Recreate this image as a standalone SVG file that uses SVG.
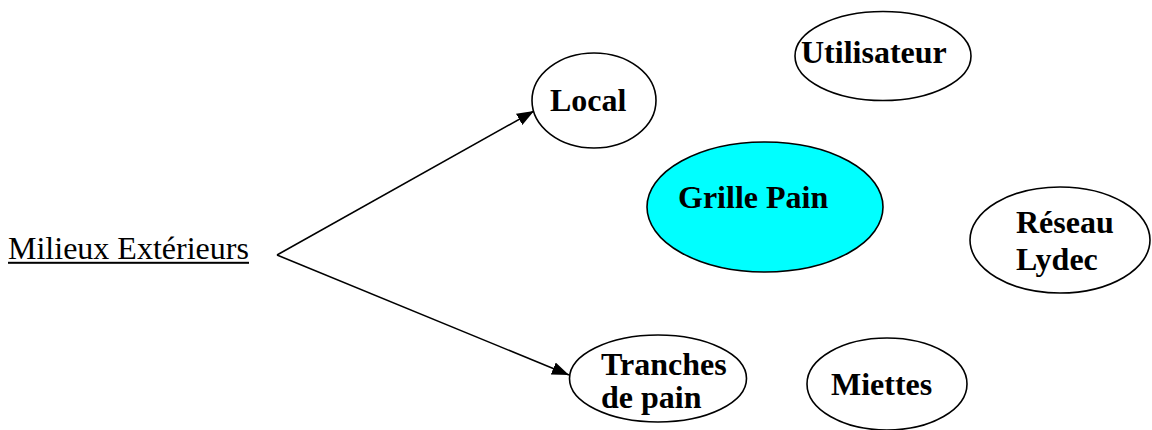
<svg xmlns="http://www.w3.org/2000/svg" width="1152" height="430" viewBox="0 0 1152 430">
<style>
  .node ellipse { fill: #ffffff; stroke: #000000; stroke-width: 1.6; }
  .node ellipse.main { fill: #00ffff; }
  .lbl { font-family: "Liberation Serif", "Times New Roman", serif; font-weight: bold; font-size: 32px; fill: #000000; }
  .plain { font-family: "Liberation Serif", "Times New Roman", serif; font-size: 32px; fill: #000000; }
  .conn line { stroke: #000000; stroke-width: 1.5; }
</style>
<defs>
  <marker id="arrow" markerUnits="userSpaceOnUse" markerWidth="18" markerHeight="13" refX="17" refY="6.5" orient="auto">
    <path d="M0,0 L17,6.5 L0,13 Z" fill="#000000"/>
  </marker>
</defs>
<rect width="1152" height="430" fill="#ffffff"/>
<g id="milieux">
  <text class="plain" x="8" y="259">Milieux Extérieurs</text>
  <rect x="8" y="261.8" width="241" height="2" fill="#000000"/>
</g>
<g class="conn" id="connectors">
  <line x1="277" y1="255" x2="534" y2="111" marker-end="url(#arrow)"/>
  <line x1="277" y1="255" x2="569" y2="375" marker-end="url(#arrow)"/>
</g>
<g class="node" id="local">
  <ellipse cx="594" cy="100.5" rx="62" ry="47.5"/>
  <text class="lbl" x="550" y="111">Local</text>
</g>
<g class="node" id="utilisateur">
  <ellipse cx="883" cy="56" rx="88" ry="44.5"/>
  <text class="lbl" x="801" y="63">Utilisateur</text>
</g>
<g class="node" id="grille-pain">
  <ellipse class="main" cx="765" cy="207" rx="118" ry="65"/>
  <text class="lbl" x="678" y="208">Grille Pain</text>
</g>
<g class="node" id="reseau-lydec">
  <ellipse cx="1060" cy="240" rx="90" ry="53"/>
  <text class="lbl" x="1016" y="233">Réseau</text>
  <text class="lbl" x="1016" y="270">Lydec</text>
</g>
<g class="node" id="tranches">
  <ellipse cx="658" cy="378.5" rx="88.5" ry="43.5"/>
  <text class="lbl" x="601" y="375">Tranches</text>
  <text class="lbl" x="601" y="408">de pain</text>
</g>
<g class="node" id="miettes">
  <ellipse cx="887" cy="384" rx="80" ry="46"/>
  <text class="lbl" x="831" y="395">Miettes</text>
</g>
</svg>
